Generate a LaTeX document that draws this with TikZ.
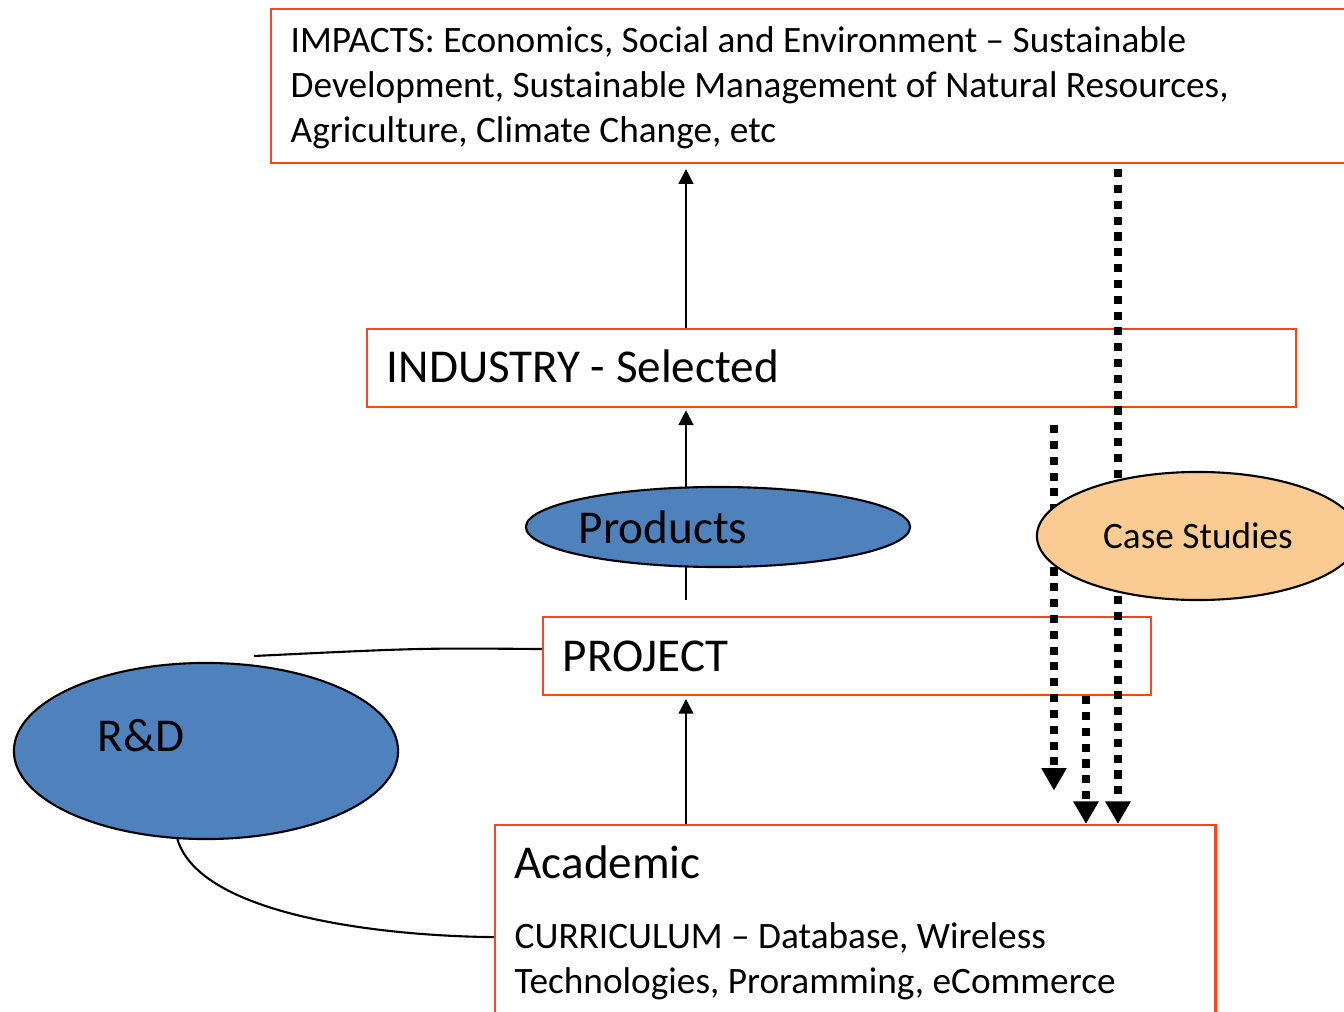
\documentclass[tikz,border=0pt]{standalone}
\usepackage{fontspec}
\setmainfont{Carlito}
\usetikzlibrary{arrows.meta,shapes.geometric}
\definecolor{boxred}{RGB}{255,69,20}
\definecolor{ellblue}{RGB}{79,129,189}
\definecolor{ellpeach}{RGB}{251,203,148}
\tikzset{
  redbox/.style={draw=boxred, line width=0.6pt, rectangle, anchor=north west, inner sep=0pt},
  blueell/.style={ellipse, draw=black, fill=ellblue, line width=0.6pt, inner sep=0pt},
  peachell/.style={ellipse, draw=black, fill=ellpeach, line width=0.6pt, inner sep=0pt},
  bigtxt/.style={font=\fontsize{13.4}{16}\selectfont, inner sep=0pt},
  smalltxt/.style={font=\fontsize{10.6}{12.8}\selectfont, inner sep=0pt, align=left},
  uparrow/.style={line width=0.6pt, -{Triangle[length=4.2pt,width=4.2pt]}},
  dotarrow/.style={line width=2.3pt, dash pattern=on 2.3pt off 2.2pt, -{Triangle[length=6.4pt,width=6.8pt]}},
  link/.style={line width=0.6pt},
}

\begin{document}
\begin{tikzpicture}[x=0.01cm, y=-0.01cm]
  \useasboundingbox (0,0) rectangle (1344,1012);
  \clip (0,0) rectangle (1344,1012);
  % boxes
  \node[redbox, minimum width=11cm, minimum height=1.54cm] (impacts) at (270,8) {};
  \node[redbox, minimum width=9.28cm, minimum height=0.78cm] (industry) at (366,328) {};
  \node[redbox, minimum width=6.08cm, minimum height=0.78cm] (project) at (542,616) {};
  \node[redbox, minimum width=7.2cm, minimum height=2.24cm] (academic) at (494,824) {};
  % texts in the boxes
  \node[smalltxt, anchor=west] (impactstxt) at (290,88) {IMPACTS: Economics, Social and Environment -- Sustainable\\Development, Sustainable Management of Natural Resources,\\Agriculture, Climate Change, etc};
  \node[bigtxt, anchor=base west] (industrytxt) at (386,383) {INDUSTRY - Selected};
  \node[bigtxt, anchor=base west] (projecttxt) at (562,671) {PROJECT};
  \node[bigtxt, anchor=base west] (academictxt) at (514,878) {Academic};
  \node[smalltxt, anchor=west] (curtxt) at (514,961) {CURRICULUM -- Database, Wireless\\Technologies, Proramming, eCommerce};
  % arrows up the middle
  \coordinate (spine) at (686,0);
  \draw[uparrow, shorten >=1.4pt] (spine |- industry.north) -- (spine |- impacts.south);
  \draw[uparrow, shorten <=4.5pt, shorten >=0.6pt] (spine |- project.north) -- (spine |- industry.south);
  \draw[uparrow, shorten >=0.8pt] (spine |- academic.north) -- (spine |- project.south);
  % dotted arrows down
  \coordinate (dotA) at (1054,0);
  \coordinate (dotB) at (1086,0);
  \coordinate (dotC) at (1118,0);
  \draw[dotarrow, shorten <=4.8pt, shorten >=9.5pt] (dotA |- industry.south) -- (dotA |- academic.north);
  \draw[dotarrow] (dotB |- project.south) -- (dotB |- academic.north);
  \draw[dotarrow, shorten <=1.4pt] (dotC |- impacts.south) -- (dotC |- academic.north);
  % ellipses
  \node[blueell, minimum width=3.84cm, minimum height=0.8cm] (products) at (718,527) {};
  \node[bigtxt] (productstxt) at (663,527) {Products};
  \node[blueell, minimum width=3.84cm, minimum height=1.76cm] (rnd) at (206,751) {};
  \node[bigtxt] (rndtxt) at (141,736) {R\&D};
  \node[peachell, minimum width=3.22cm, minimum height=1.28cm, font=\fontsize{10.6}{12.8}\selectfont] (cases) at (1198,536) {Case Studies};
  % links to R&D
  \coordinate (rndend) at (254,656);
  \draw[link] ([yshift=2pt]project.west) .. controls (420,648) .. (rndend);
  \draw[link] (rnd.252) .. controls (200,915) and (380,936) .. (academic.west);
\end{tikzpicture}
\end{document}
